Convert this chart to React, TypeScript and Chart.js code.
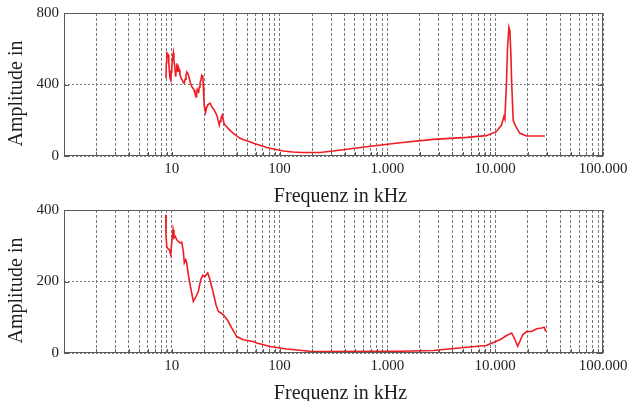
import React, { useEffect, useRef } from "react";
import { Chart, registerables } from "chart.js";

Chart.register(...registerables);

// ---------- data ----------
const freqTop = [8.83, 8.9, 8.97, 9.1, 9.28, 9.38, 9.48, 9.6, 9.77, 9.9, 10.0, 10.11, 10.2, 10.33, 10.45, 10.64, 10.75, 10.87, 10.98, 11.1, 11.25, 11.4, 11.55, 11.74, 11.9, 12.09, 12.3, 12.52, 12.8, 13.06, 13.3, 13.54, 13.8, 14.05, 14.3, 14.54, 14.9, 15.3, 15.7, 16.07, 16.4, 16.77, 17.0, 17.24, 17.5, 17.77, 18.0, 18.26, 18.6, 18.94, 19.15, 19.35, 19.6, 19.8, 20.02, 20.3, 20.63, 21.0, 21.53, 22.0, 22.61, 23.3, 23.96, 24.5, 25.16, 25.8, 26.43, 27.0, 27.58, 28.1, 28.6, 29.0, 29.42, 29.9, 30.5, 31.3, 32.31, 34.5, 37.2, 40, 42.93, 47, 53.15, 58, 64.8, 75.8, 107.6, 133, 160, 237, 312, 643, 1312, 2670, 5440, 8260, 10240, 11440, 12030, 12290, 12750, 13000, 13400, 13690, 14000, 14180, 14690, 15000, 15560, 16950, 19560, 28900];
const ampTop = [435, 520, 583, 560, 565, 520, 481, 440, 425, 470, 500, 537, 560, 578, 540, 500, 470, 444, 480, 518, 500, 470, 495, 481, 455, 444, 430, 425, 410, 407, 430, 453, 470, 463, 450, 435, 410, 388, 380, 369, 350, 332, 350, 373, 365, 360, 385, 407, 425, 448, 440, 453, 388, 330, 276, 260, 248, 270, 285, 290, 295, 280, 267, 262, 248, 235, 220, 195, 173, 195, 211, 222, 229, 205, 183, 172, 164, 145, 127, 112, 99, 90, 80, 70, 62, 47, 28, 22, 20, 20, 28, 52, 74, 93, 104, 114, 136, 173, 220, 205, 425, 600, 720, 700, 560, 425, 201, 185, 164, 127, 112, 112];

const freqBottom = [8.78, 8.83, 8.97, 9.2, 9.48, 9.77, 10.04, 10.26, 10.48, 10.78, 11.1, 11.49, 11.92, 12.36, 12.79, 13.06, 13.46, 13.75, 14.23, 14.97, 15.83, 16.77, 17.61, 18.54, 19.35, 20.31, 21.53, 22.61, 24.27, 25.7, 27.01, 28.6, 30.04, 32.71, 35.95, 40.0, 46.06, 57.0, 61.3, 81.5, 116.4, 191, 237, 1312, 2666, 5440, 8260, 11080, 12750, 14230, 15270, 16170, 16950, 17990, 19560, 21810, 24270, 27010, 28540, 29410];
const ampBottom = [387, 331, 298, 292, 289, 275, 317, 345, 322, 326, 317, 312, 308, 310, 284, 252, 261, 252, 219, 182, 144, 158, 172, 205, 217, 214, 224, 205, 168, 135, 116, 112, 107, 93, 70, 46, 37, 32, 28, 18, 11, 5, 4, 5, 7, 16, 21, 37, 49, 56, 37, 19, 33, 51, 60, 60, 68, 70, 72, 60];

const xTickValues = [10, 100, 1000, 10000, 100000];
const xTickLabels = ["10", "100", "1.000", "10.000", "100.000"];
const yTicksTop = [0, 400, 800];
const yTicksBottom = [0, 200, 400];
const xTitle = "Frequenz in kHz";
const yTitle = "Amplitude in";

// minor grid values 1..9 x 10^k
const gridValues: number[] = [];
for (let k = 0; k < 5; k++) {
  for (let j = 1; j < 10; j++) gridValues.push(j * Math.pow(10, k));
}
gridValues.push(100000);

const FONT = "'Liberation Serif', 'Times New Roman', serif";
const TEXT = "#1e1e1e";
const FRAME = "#5a5a5a";
const GRID = "#7a7a7a";

const framePlugin = {
  id: "frameAndTitles",
  afterDraw(chart: any) {
    const { ctx, chartArea } = chart;
    const { left, right, top, bottom } = chartArea;
    const xs = chart.scales.x;
    const ys = chart.scales.y;
    ctx.save();
    ctx.strokeStyle = FRAME;
    ctx.lineWidth = 1;
    ctx.setLineDash([]);
    ctx.strokeRect(left + 0.5, top + 0.5, right - left - 1, bottom - top - 1);
    ctx.beginPath();
    for (const v of gridValues) {
      const px = Math.round(xs.getPixelForValue(v)) + 0.5;
      ctx.moveTo(px, bottom);
      ctx.lineTo(px, bottom - 4);
    }
    for (const t of ys.ticks) {
      const py = Math.round(ys.getPixelForValue(t.value)) + 0.5;
      ctx.moveTo(left, py);
      ctx.lineTo(left + 5, py);
      ctx.moveTo(right, py);
      ctx.lineTo(right - 5, py);
    }
    ctx.stroke();

    ctx.fillStyle = TEXT;
    ctx.font = `20px ${FONT}`;
    ctx.textAlign = "center";
    ctx.textBaseline = "alphabetic";
    ctx.fillText(xTitle, (left + right) / 2 + 7, bottom + 46);
    ctx.translate(21.5, (top + bottom) / 2 + 9);
    ctx.rotate(-Math.PI / 2);
    ctx.fillText(yTitle, 0, 0);
    ctx.restore();
  },
};

function makeConfig(freq: number[], amp: number[], yTicks: number[], padTop: number, xAxisH: number): any {
  return {
    type: "line",
    data: {
      datasets: [
        {
          data: freq.map((f, i) => ({ x: f, y: amp[i] })),
          borderColor: "#f01c24",
          borderWidth: 1.6,
          pointRadius: 0,
          tension: 0,
          fill: false,
        },
      ],
    },
    options: {
      animation: false,
      responsive: false,
      maintainAspectRatio: false,
      layout: { padding: { left: 0, right: 25, top: padTop, bottom: 0 } },
      plugins: { legend: { display: false }, tooltip: { enabled: false }, title: { display: false } },
      scales: {
        x: {
          type: "logarithmic",
          min: 1,
          max: 100000,
          afterBuildTicks: (s: any) => {
            s.ticks = gridValues.map((v) => ({ value: v }));
          },
          afterFit: (s: any) => {
            s.height = xAxisH;
            s.paddingLeft = 0;
            s.paddingRight = 0;
          },
          ticks: {
            autoSkip: false,
            maxRotation: 0,
            minRotation: 0,
            padding: 4,
            color: TEXT,
            font: { family: FONT, size: 15 },
            callback: (v: number) => {
              const i = xTickValues.indexOf(v);
              return i >= 0 ? xTickLabels[i] : "";
            },
          },
          grid: { color: GRID, lineWidth: 1, drawTicks: false },
          border: { display: false, dash: [3, 2] },
        },
        y: {
          min: yTicks[0],
          max: yTicks[yTicks.length - 1],
          afterBuildTicks: (s: any) => {
            s.ticks = yTicks.map((v) => ({ value: v }));
          },
          afterFit: (s: any) => {
            s.width = 64;
            s.paddingTop = 0;
            s.paddingBottom = 0;
          },
          ticks: {
            padding: 5,
            color: TEXT,
            font: { family: FONT, size: 15 },
          },
          grid: { color: GRID, lineWidth: 1, drawTicks: false },
          border: { display: false, dash: [2, 2] },
        },
      },
    },
    plugins: [framePlugin],
  };
}

function Panel(props: { freq: number[]; amp: number[]; yTicks: number[]; top: number; height: number; padTop: number; xAxisH: number }) {
  const ref = useRef<HTMLCanvasElement | null>(null);
  useEffect(() => {
    if (!ref.current) return;
    const chart = new Chart(ref.current, makeConfig(props.freq, props.amp, props.yTicks, props.padTop, props.xAxisH));
    return () => chart.destroy();
  }, []);
  return (
    <canvas
      ref={ref}
      width={628}
      height={props.height}
      style={{ display: "block", position: "absolute", left: 0, top: props.top, width: 628, height: props.height }}
    />
  );
}

export default function App() {
  useEffect(() => {
    document.body.style.margin = "0";
  }, []);
  return (
    <div style={{ width: 628, height: 401, background: "#fff", position: "relative", overflow: "hidden" }}>
      <Panel freq={freqTop} amp={ampTop} yTicks={yTicksTop} top={0} height={208} padTop={13} xAxisH={52} />
      <Panel freq={freqBottom} amp={ampBottom} yTicks={yTicksBottom} top={200} height={201} padTop={10} xAxisH={48} />
    </div>
  );
}
